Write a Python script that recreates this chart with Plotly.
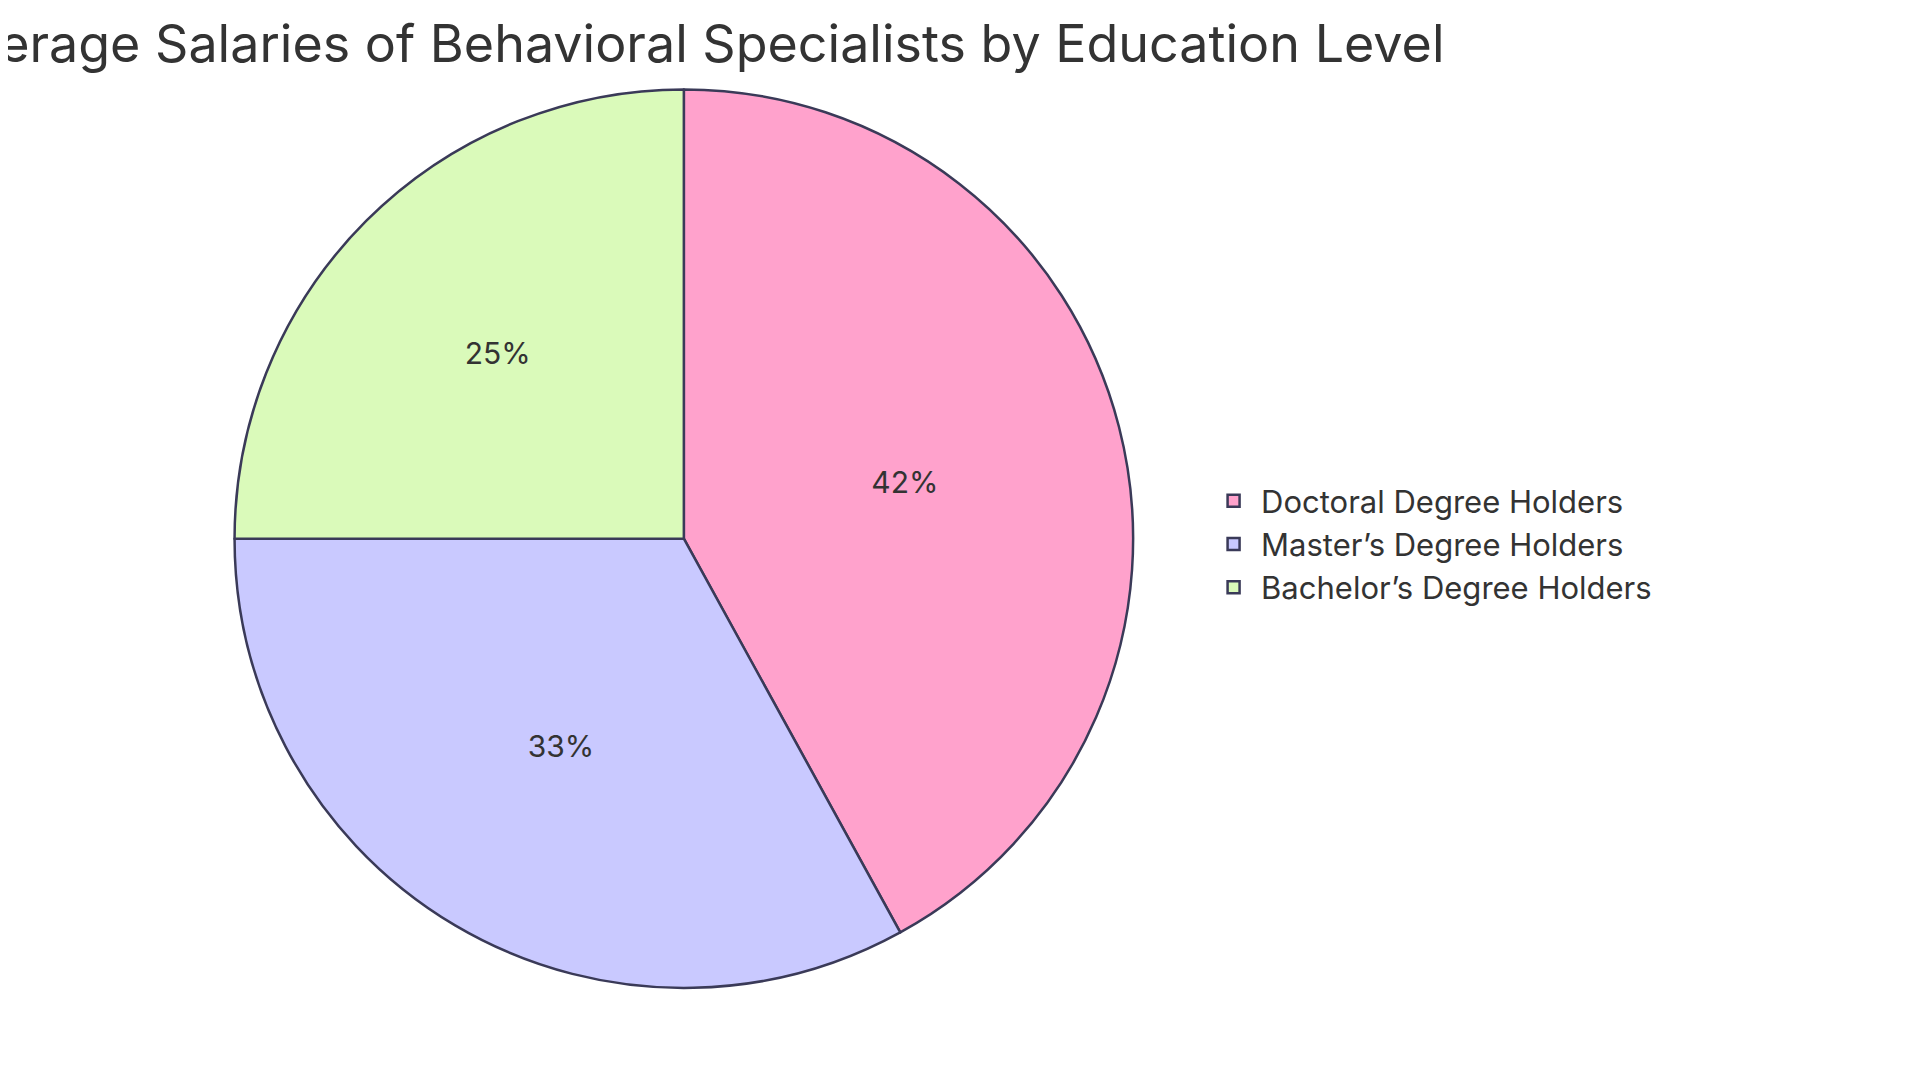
import plotly.graph_objects as go

labels = ["Doctoral Degree Holders", "Master’s Degree Holders", "Bachelor’s Degree Holders"]
values = [42, 33, 25]
colors = ["#FFA2CC", "#C9C9FF", "#DAFABA"]

fig = go.Figure(go.Pie(
    labels=labels, values=values, sort=False, direction="clockwise", rotation=0,
    marker=dict(colors=colors, line=dict(color="#3A3A58", width=2.5)),
    textinfo="percent", texttemplate="%{percent:.0%}", textposition="inside",
    insidetextorientation="horizontal",
    textfont=dict(size=30, color="#333333", family="Inter"),
    domain=dict(x=[0.118, 0.586], y=[0.095, 0.925]),
))
fig.update_layout(
    width=1920, height=1083,
    margin=dict(l=0, r=0, t=0, b=0),
    paper_bgcolor="white",
    font=dict(family="Inter", color="#333333"),
    title=dict(text="Average Salaries of Behavioral Specialists by Education Level",
               x=0.356, xanchor="center", y=0.967, yanchor="middle",
               font=dict(size=52, color="#333333", family="Inter")),
    legend=dict(x=0.624, xanchor="left", y=0.505, yanchor="middle",
                font=dict(size=31, color="#333333"), tracegroupgap=10,
                itemwidth=45),
)
fig.write_html("out.html")
